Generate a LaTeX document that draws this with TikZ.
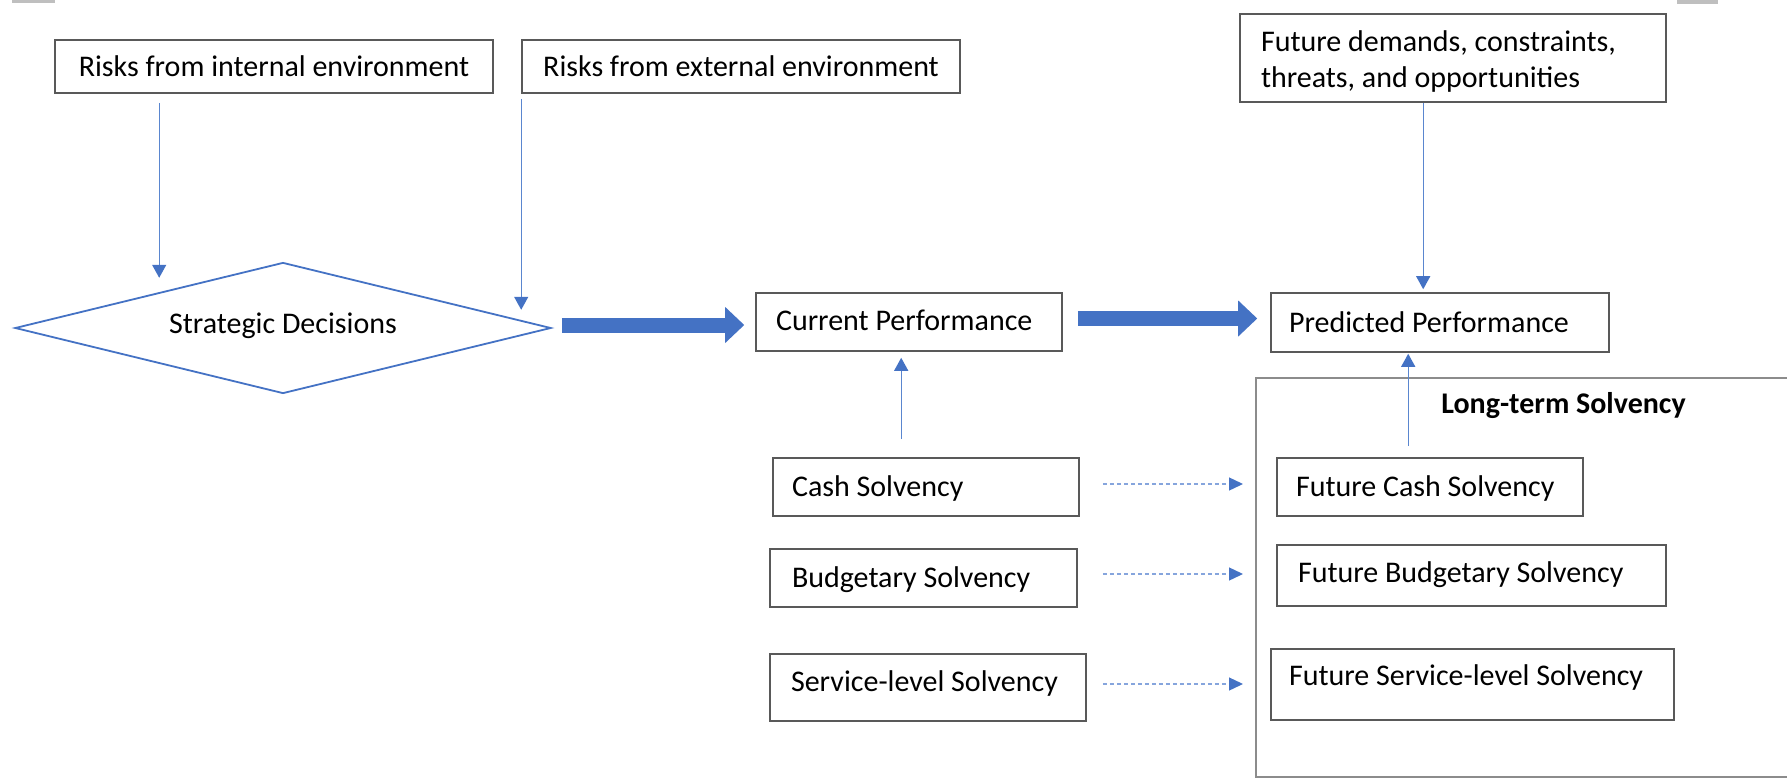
\documentclass[tikz,border=0pt]{standalone}
\usepackage{fontspec}
\setmainfont{Carlito}
\usetikzlibrary{arrows.meta,shapes.geometric}
\definecolor{arrowblue}{HTML}{4472C4}
\definecolor{linkblue}{HTML}{5A86CF}
\definecolor{dotblue}{HTML}{86A5DD}
\definecolor{boxgray}{HTML}{595959}
\definecolor{framegray}{HTML}{8C8C8C}
\definecolor{tabgray}{HTML}{BFBFBF}
% a line of text set flush left in a field of the given width
\newcommand{\leftcell}[2]{\makebox[#1][l]{#2}}
\begin{document}
\begin{tikzpicture}[x=1pt, y=-1pt,
  every node/.style={font=\fontsize{30pt}{36.6pt}\selectfont, text=black},
  box/.style={draw=boxgray, line width=1.6pt, rectangle, inner sep=0pt,
    text height=19.5pt, text depth=0pt},
  flow/.style={draw=linkblue, line width=1.3pt,
    -{Triangle[width=14pt,length=13pt,color=arrowblue]}},
  dotflow/.style={draw=dotblue, line width=1.3pt, dash pattern=on 4pt off 3pt,
    -{Triangle[width=13pt,length=14pt,color=arrowblue]}},
  bigarrow/.style={draw=arrowblue, line width=15pt,
    -{Triangle[width=36pt,length=19pt,line width=0pt]}},
]
\useasboundingbox (0,0) rectangle (1787,779);
\clip (0,0) rectangle (1787,779);

% small grey tabs along the top edge
\fill[tabgray] (12,0) rectangle (55,3);
\fill[tabgray] (1677,0) rectangle (1718,4);

% risk sources and outlook
\node[box, minimum width=438pt, minimum height=53pt]
  (ri) at (274,66.5) {Risks from internal environment};
\node[box, minimum width=438pt, minimum height=53pt]
  (re) at (741,66.5) {Risks from external environment};
\node[box, minimum width=426pt, minimum height=88pt, text depth=33.5pt]
  (fd) at (1453,58) {\parbox[t]{384pt}{\raggedright Future demands, constraints,\\threats, and opportunities}};

% decision and performance
\node[diamond, draw=arrowblue, line width=1.8pt, aspect=4.09, inner sep=0pt,
  minimum width=536pt, minimum height=131pt, text height=19.5pt, text depth=9.5pt]
  (sd) at (283,328) {Strategic Decisions};
\node[box, minimum width=306pt, minimum height=58pt, text depth=3.5pt]
  (cp) at (909,322) {\leftcell{266pt}{Current Performance}};
\node[box, minimum width=338pt, minimum height=59pt]
  (pp) at (1440,322.5) {\leftcell{302pt}{Predicted Performance}};

% long-term solvency frame
\node[draw=framegray, line width=2pt, rectangle, inner sep=0pt,
  minimum width=564pt, minimum height=399pt] (lt) at (1538,577.5) {};
\node[anchor=base, font=\fontsize{30pt}{36pt}\selectfont\bfseries]
  (ltl) at (1563.5,413) {Long-term Solvency};

% current solvency measures
\node[box, minimum width=306pt, minimum height=58pt]
  (cs) at (926,487) {\leftcell{268pt}{Cash Solvency}};
\node[box, minimum width=307pt, minimum height=58pt]
  (bs) at (923.5,578) {\leftcell{263pt}{Budgetary Solvency}};
\node[box, minimum width=316pt, minimum height=67pt, text depth=11pt]
  (ss) at (928,687.5) {\leftcell{274pt}{Service-level Solvency}};

% future solvency measures
\node[box, minimum width=306pt, minimum height=58pt]
  (fcs) at (1430,487) {\leftcell{268pt}{Future Cash Solvency}};
\node[box, minimum width=389pt, minimum height=61pt, text depth=6.5pt]
  (fbs) at (1471.5,575.5) {\leftcell{347pt}{Future Budgetary Solvency}};
\node[box, minimum width=403pt, minimum height=71pt, text depth=18.5pt]
  (fss) at (1472.5,684.5) {\leftcell{367pt}{Future Service-level Solvency}};

% thin connectors
\draw[flow, shorten <=9pt] ([xshift=105pt]ri.south west) -- ++(0,184);
\draw[flow, shorten <=5pt] (re.south west) -- ++(0,216);
\draw[flow, shorten >=3pt] ([xshift=184pt]fd.south west) -- ([xshift=184pt]fd.south west |- pp.north);
\draw[flow, shorten <=18pt, shorten >=6pt] ([xshift=129pt]cs.north west) -- ([xshift=129pt]cs.north west |- cp.south);
\draw[flow, shorten <=11pt, shorten >=1pt] ([xshift=132pt]fcs.north west) -- ([xshift=132pt]fcs.north west |- pp.south);

% dotted projections into the future
\draw[dotflow, shorten <=23pt, shorten >=12pt] ([yshift=3pt]cs.east) -- ([yshift=3pt]cs.east -| lt.west);
\draw[dotflow, shorten <=25pt, shorten >=12pt] ([yshift=4pt]bs.east) -- ([yshift=4pt]bs.east -| lt.west);
\draw[dotflow, shorten <=16pt, shorten >=12pt] ([yshift=3.5pt]ss.east) -- ([yshift=3.5pt]ss.east -| lt.west);

% block arrows along the main flow
\draw[bigarrow, shorten <=10pt, shorten >=11pt] ([yshift=3pt]sd.east) -- ([yshift=3pt]sd.east -| cp.west);
\draw[bigarrow, shorten <=15pt, shorten >=13pt] ([yshift=3.5pt]cp.east) -- ([yshift=3.5pt]cp.east -| pp.west);
\end{tikzpicture}
\end{document}
